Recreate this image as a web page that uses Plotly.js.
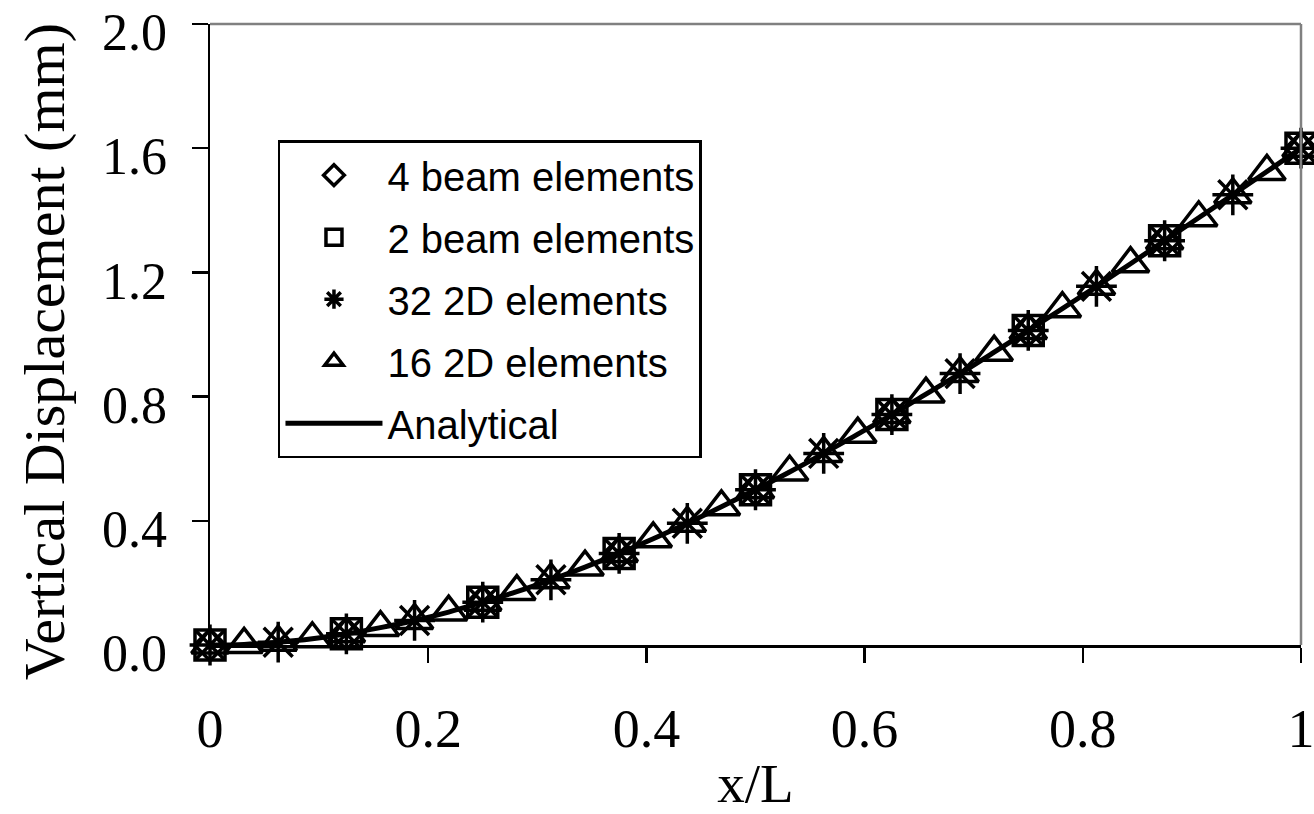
<!DOCTYPE html>
<html>
<head>
<meta charset="utf-8">
<script src="https://cdn.plot.ly/plotly-3.0.1.min.js"></script>
<style>html,body{margin:0;padding:0;background:#fff;}#chart{width:1314px;height:814px;}</style>
</head>
<body>
<div id="chart"></div>
<script>
// x/L positions and vertical displacement (mm)
const xBeam = [0, 0.125, 0.25, 0.375, 0.5, 0.625, 0.75, 0.875, 1];
const yBeam4 = [0, 0.036, 0.138, 0.295, 0.5, 0.742, 1.013, 1.302, 1.6];
const yBeam2 = [0, 0.036, 0.138, 0.295, 0.5, 0.742, 1.013, 1.302, 1.6];

const x2D32 = [0, 0.0625, 0.125, 0.1875, 0.25, 0.3125, 0.375, 0.4375, 0.5, 0.5625, 0.625, 0.6875, 0.75, 0.8125, 0.875, 0.9375, 1];
const y2D32 = [0, 0.009, 0.036, 0.079, 0.138, 0.210, 0.295, 0.392, 0.5, 0.617, 0.742, 0.874, 1.013, 1.155, 1.302, 1.450, 1.6];

const x2D16 = [0, 0.03125, 0.0625, 0.09375, 0.125, 0.15625, 0.1875, 0.21875, 0.25, 0.28125, 0.3125, 0.34375, 0.375, 0.40625, 0.4375, 0.46875, 0.5,
  0.53125, 0.5625, 0.59375, 0.625, 0.65625, 0.6875, 0.71875, 0.75, 0.78125, 0.8125, 0.84375, 0.875, 0.90625, 0.9375, 0.96875, 1];
const y2D16 = [0, 0.002, 0.009, 0.020, 0.036, 0.056, 0.079, 0.106, 0.138, 0.172, 0.210, 0.251, 0.295, 0.342, 0.392, 0.445, 0.5,
  0.557, 0.617, 0.679, 0.742, 0.808, 0.874, 0.943, 1.013, 1.083, 1.155, 1.228, 1.302, 1.376, 1.450, 1.525, 1.6];

const xAnalytical = x2D16;
const yAnalytical = y2D16;

const xTicks = [0, 0.2, 0.4, 0.6, 0.8, 1];
const xTickText = ['0', '0.2', '0.4', '0.6', '0.8', '1'];
const yTicks = [0, 0.4, 0.8, 1.2, 1.6, 2.0];
const yTickText = ['0.0', '0.4', '0.8', '1.2', '1.6', '2.0'];

const names = ['4 beam elements', '2 beam elements', '32 2D elements', '16 2D elements', 'Analytical'];
const xTitle = 'x/L';
const yTitle = 'Vertical Displacement (mm)';

const traces = [
  {x: xBeam, y: yBeam4, name: names[0], legendgroup: 'a', mode: 'markers', cliponaxis: false,
   marker: {symbol: 'diamond-open', size: 24, color: '#000', line: {color: '#000', width: 3.5}}},
  {x: xBeam, y: yBeam2, name: names[1], legendgroup: 'b', mode: 'markers', cliponaxis: false,
   marker: {symbol: 'square-open', size: 30, color: '#000', line: {color: '#000', width: 3.5}}},
  {x: x2D32, y: y2D32, name: names[2], legendgroup: 'c', mode: 'markers', cliponaxis: false,
   marker: {symbol: 'asterisk-open', size: 34, color: '#000', line: {color: '#000', width: 3.5}}},
  {x: x2D16, y: y2D16, name: names[3], legendgroup: 'd', mode: 'markers', cliponaxis: false,
   marker: {symbol: 'triangle-up-open', size: 32, color: '#000', line: {color: '#000', width: 3.5}}},
  {x: xAnalytical, y: yAnalytical, name: names[4], legendgroup: 'e', mode: 'lines', cliponaxis: false,
   line: {color: '#000', width: 5, shape: 'spline'}}
];

const serif = '"Liberation Serif", "Times New Roman", serif';
const sans = '"Liberation Sans", Arial, sans-serif';

const layout = {
  width: 1314, height: 814,
  margin: {l: 210, r: 13, t: 24, b: 169},
  paper_bgcolor: '#fff', plot_bgcolor: '#fff',
  showlegend: true,
  legend: {
    x: 0.0623, y: 0.813, xanchor: 'left', yanchor: 'top',
    bgcolor: '#fff', bordercolor: '#000', borderwidth: 2.5,
    font: {family: sans, size: 40, color: '#000'},
    tracegroupgap: 7, itemwidth: 97, traceorder: 'grouped'
  },
  xaxis: {
    range: [0, 1], tickvals: xTicks, ticktext: xTickText,
    showgrid: false, zeroline: false,
    showline: true, linecolor: '#000', linewidth: 2.5,
    ticks: 'outside', ticklen: 15, tickwidth: 2.5, tickcolor: '#000',
    ticklabelstandoff: 20, ticklabeloverflow: 'allow',
    tickfont: {family: serif, size: 54, color: '#000'},
    title: {text: xTitle, font: {family: serif, size: 55, color: '#000'}, standoff: 33},
    automargin: false
  },
  yaxis: {
    range: [0, 2], tickvals: yTicks, ticktext: yTickText,
    showgrid: false, zeroline: false,
    showline: true, linecolor: '#000', linewidth: 2.5,
    ticks: 'outside', ticklen: 16, tickwidth: 2.5, tickcolor: '#000',
    ticklabelstandoff: 14, ticklabelshift: 8, ticklabeloverflow: 'allow',
    tickfont: {family: serif, size: 52, color: '#000'},
    automargin: false
  },
  annotations: [
    {text: yTitle, xref: 'paper', yref: 'paper', x: -0.151, y: 0.472,
     xanchor: 'center', yanchor: 'middle', textangle: -90, showarrow: false,
     font: {family: serif, size: 58, color: '#000'}}
  ],
  shapes: [
    {type: 'line', xref: 'paper', yref: 'paper', x0: 0, x1: 1, y0: 1, y1: 1, line: {color: '#808080', width: 2.5}},
    {type: 'line', xref: 'paper', yref: 'paper', x0: 1, x1: 1, y0: 0, y1: 1, line: {color: '#808080', width: 2.5}}
  ]
};

Plotly.newPlot('chart', traces, layout, {displayModeBar: false, staticPlot: true});
</script>
</body>
</html>
